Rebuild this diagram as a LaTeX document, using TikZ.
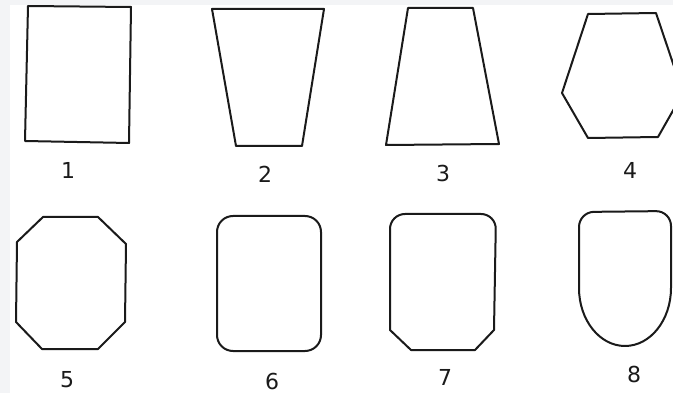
\documentclass[tikz,border=0pt]{standalone}
\usepackage{fontspec}
\setsansfont{DejaVu Sans}
\usetikzlibrary{positioning}
\definecolor{edgec}{HTML}{1A1A1A}
\definecolor{bgc}{HTML}{F3F4F6}
\tikzset{
  outl/.style={draw=edgec, line width=2pt, line join=round},
  num/.style={font=\sffamily\fontsize{22}{22}\selectfont, text=edgec, inner sep=0pt},
}
\begin{document}
\begin{tikzpicture}[x=1pt, y=-1pt]
  \useasboundingbox (0,0) rectangle (673,393);
  \fill[bgc] (0,0) rectangle (673,393);
  \fill[white] (10,5) rectangle (673,393);
  % top row
  \draw[outl] (28,6) -- (131,7) -- (129,143) -- (25,141) -- cycle;
  \draw[outl] (212,9) -- (324,9) -- (302,146) -- (236,146) -- cycle;
  \draw[outl] (408,8) -- (473,8) -- (499,144) -- (386,145) -- cycle;
  \draw[outl] (588,14) -- (656,13) -- (683,93) -- (658,137) -- (588,138) -- (562,93) -- cycle;
  \node[num] (n1) at (68,170) {1};
  \node[num] (n2) at (265,174) {2};
  \node[num] (n3) at (443,173) {3};
  \node[num] (n4) at (630,170) {4};
  % bottom row
  \draw[outl] (43,217) -- (98,217) -- (126,244) -- (125,322) -- (98,349)
    -- (42,349) -- (16,322) -- (17,242) -- cycle;
  \draw[outl, rounded corners=16pt] (217,216) rectangle (321,351);
  \draw[outl] (390,330) [rounded corners=15pt] -- (390,214) -- (496,214)
    [sharp corners] -- (494,330) -- (475,350) -- (411,350) -- cycle;
  \draw[outl] (579,288) [rounded corners=15pt] -- (579,212) -- (671,211)
    [sharp corners] -- (671,288)
    arc[start angle=0, end angle=180, x radius=46, y radius=58];
  \node[num] (n5) at (67,380) {5};
  \node[num] (n6) at (272,381) {6};
  \node[num] (n7) at (445,377) {7};
  \node[num] (n8) at (634,374) {8};
\end{tikzpicture}
\end{document}
